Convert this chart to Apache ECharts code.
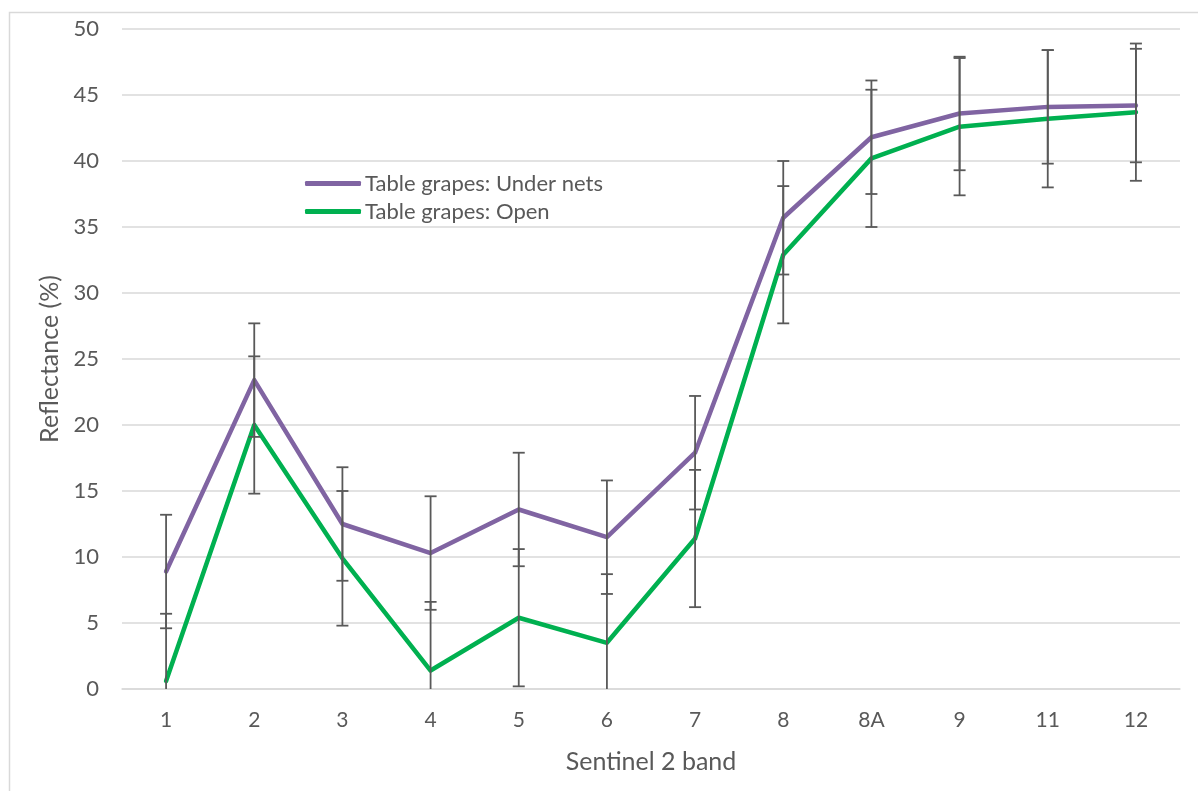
<!DOCTYPE html>
<html>
<head>
<meta charset="utf-8">
<script src="https://cdn.jsdelivr.net/npm/echarts@6/dist/echarts.min.js"></script>
<style>
  html, body { margin: 0; padding: 0; background: #ffffff; }
  #chart { width: 1198px; height: 791px; }
</style>
</head>
<body>
<div id="chart"></div>
<script>
// Sentinel 2 bands on the category axis
const bands = ['1', '2', '3', '4', '5', '6', '7', '8', '8A', '9', '11', '12'];

// Mean reflectance (%) per band
const underNets = [8.9, 23.4, 12.5, 10.3, 13.6, 11.5, 17.9, 35.7, 41.8, 43.6, 44.1, 44.2];
const openField = [0.6, 20.0, 9.9, 1.4, 5.4, 3.5, 11.4, 32.9, 40.2, 42.6, 43.2, 43.7];

// Standard deviation (± error) per band
const underNetsErr = [4.3, 4.3, 4.3, 4.3, 4.3, 4.3, 4.3, 4.3, 4.3, 4.3, 4.3, 4.3];
const openFieldErr = [5.1, 5.2, 5.1, 5.2, 5.2, 5.2, 5.2, 5.2, 5.2, 5.2, 5.2, 5.2];

// Y axis ticks
const yMin = 0, yMax = 50, yStep = 5;

const seriesNames = ['Table grapes: Under nets', 'Table grapes: Open'];
const colors = ['#8064A2', '#00B050'];
const textColor = '#595959';
const gridColor = '#D9D9D9';
const fontFamily = 'Lato, "Open Sans", sans-serif';

// [categoryIndex, low, high] rows for the error bars
function errorRows(values, errs) {
  return values.map((v, i) => [i, v - errs[i], v + errs[i]]);
}

function renderErrorBar(params, api) {
  const x = api.value(0);
  const lo = api.coord([x, api.value(1)]);
  const hi = api.coord([x, api.value(2)]);
  const half = 6;
  const style = { stroke: textColor, lineWidth: 1.8, fill: null };
  return {
    type: 'group',
    children: [
      { type: 'line', shape: { x1: hi[0], y1: hi[1], x2: lo[0], y2: lo[1] }, style },
      { type: 'line', shape: { x1: hi[0] - half, y1: hi[1], x2: hi[0] + half, y2: hi[1] }, style },
      { type: 'line', shape: { x1: lo[0] - half, y1: lo[1], x2: lo[0] + half, y2: lo[1] }, style }
    ]
  };
}

const chart = echarts.init(document.getElementById('chart'), null, { renderer: 'canvas' });

chart.setOption({
  animation: false,
  backgroundColor: '#ffffff',
  textStyle: { fontFamily: fontFamily, color: textColor },
  graphic: [{
    type: 'rect',
    left: 7, top: 10,
    shape: { width: 1200, height: 800 },
    style: { fill: null, stroke: gridColor, lineWidth: 1.5 },
    silent: true,
    z: -10
  }],
  legend: {
    data: seriesNames.map((n, i) => ({ name: n, icon: 'roundRect', itemStyle: { color: colors[i] } })),
    orient: 'vertical',
    left: 300,
    top: 167,
    itemWidth: 56,
    itemHeight: 5,
    itemGap: 5,
    textStyle: { fontFamily: fontFamily, fontSize: 22, color: textColor, lineHeight: 23, padding: [0, 0, 0, -1] }
  },
  grid: { left: 122, right: 18, top: 29, bottom: 102, containLabel: false },
  xAxis: {
    type: 'category',
    data: bands,
    boundaryGap: true,
    name: 'Sentinel 2 band',
    nameLocation: 'middle',
    nameGap: 60,
    nameTextStyle: { fontFamily: fontFamily, fontSize: 25, color: textColor },
    axisLine: { show: true, lineStyle: { color: gridColor, width: 1.5 } },
    axisTick: { show: false },
    axisLabel: { fontFamily: fontFamily, fontSize: 21, color: textColor, margin: 21 }
  },
  yAxis: {
    type: 'value',
    min: yMin, max: yMax, interval: yStep,
    name: 'Reflectance (%)',
    nameLocation: 'middle',
    nameGap: 60,
    nameRotate: 90,
    nameTextStyle: { fontFamily: fontFamily, fontSize: 25, color: textColor },
    axisLine: { show: false },
    axisTick: { show: false },
    axisLabel: { fontFamily: fontFamily, fontSize: 22, color: textColor, margin: 23 },
    splitLine: { show: true, lineStyle: { color: gridColor, width: 1.5 } }
  },
  series: [
    {
      name: seriesNames[0], type: 'line', data: underNets,
      symbol: 'none', color: colors[0],
      lineStyle: { color: colors[0], width: 4.5, cap: 'round', join: 'round' },
      z: 3
    },
    {
      name: seriesNames[1], type: 'line', data: openField,
      symbol: 'none', color: colors[1],
      lineStyle: { color: colors[1], width: 4.5, cap: 'round', join: 'round' },
      z: 4
    },
    {
      name: 'errUnderNets', type: 'custom', data: errorRows(underNets, underNetsErr),
      renderItem: renderErrorBar, clip: true, z: 5, silent: true,
      encode: { x: 0, y: [1, 2] }
    },
    {
      name: 'errOpenField', type: 'custom', data: errorRows(openField, openFieldErr),
      renderItem: renderErrorBar, clip: true, z: 5, silent: true,
      encode: { x: 0, y: [1, 2] }
    }
  ]
});
</script>
</body>
</html>
